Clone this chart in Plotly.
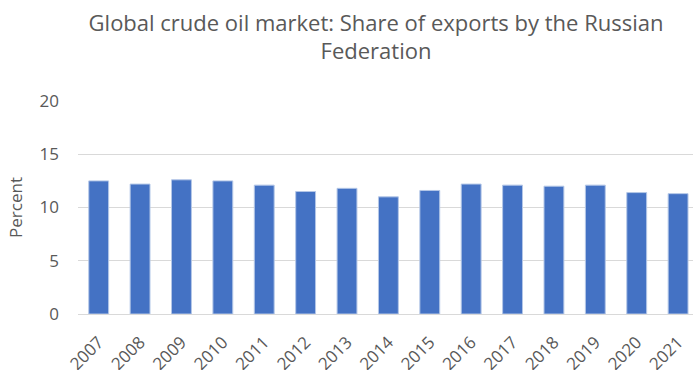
import plotly.graph_objects as go

# Russian Federation share of global crude oil exports, by year
years = ["2007", "2008", "2009", "2010", "2011", "2012", "2013", "2014",
         "2015", "2016", "2017", "2018", "2019", "2020", "2021"]
share_pct = [12.5, 12.2, 12.6, 12.5, 12.1, 11.5, 11.8, 11.0,
             11.6, 12.2, 12.1, 12.0, 12.1, 11.4, 11.3]

title_text = "Global crude oil market: Share of exports by the Russian<br>Federation"
y_ticks = [0, 5, 10, 15, 20]

FONT = "Open Sans"
GREY = "#595959"

fig = go.Figure(
    go.Bar(
        x=years,
        y=share_pct,
        width=0.48,
        marker=dict(color="#4472C4", line=dict(color="#B4C7E7", width=1)),
    )
)

fig.update_layout(
    width=693,
    height=370,
    margin=dict(l=78, r=0, t=101, b=56),
    paper_bgcolor="white",
    plot_bgcolor="white",
    showlegend=False,
    font=dict(family=FONT, color=GREY, size=16),
    title=dict(
        text=title_text,
        x=0.5426,
        xref="container",
        xanchor="center",
        y=0.917,
        yref="container",
        yanchor="top",
        font=dict(family=FONT, size=22, color=GREY),
    ),
)

fig.update_xaxes(
    type="category",
    range=[-0.5, 14.36],
    tickangle=-45,
    showgrid=False,
    showline=False,
    ticks="",
    automargin=False,
    ticklabelstandoff=14,
    tickfont=dict(size=17, color=GREY),
)

fig.update_yaxes(
    range=[0, 20],
    tickvals=y_ticks,
    showgrid=True,
    gridcolor="#D9D9D9",
    gridwidth=1,
    zeroline=True,
    zerolinecolor="#D9D9D9",
    zerolinewidth=1,
    showline=False,
    ticks="",
    automargin=False,
    ticklabelstandoff=18,
    tickfont=dict(size=17, color=GREY),
    title=dict(text="Percent", font=dict(size=17, color=GREY), standoff=12),
)

fig.write_html("out.html")
